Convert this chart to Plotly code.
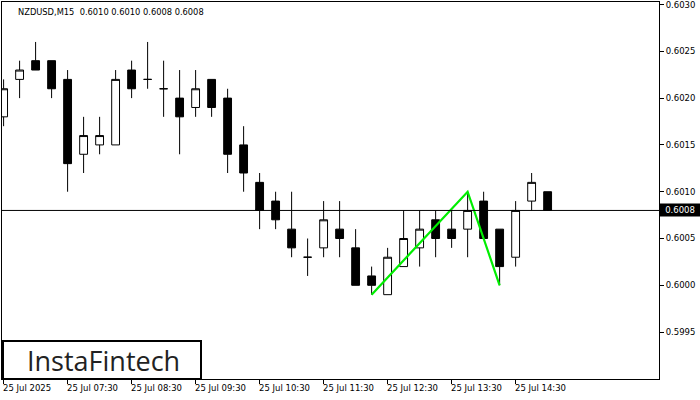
import plotly.graph_objects as go

# ---- data (NZDUSD M15, 25 Jul 2025, 06:30 .. 15:00) ----
bar_index = list(range(35))
opens  = [0.6018, 0.6022, 0.6024, 0.6024, 0.6022, 0.6014, 0.6015, 0.6015, 0.6023, 0.6022,
          0.6021, 0.6020, 0.6019, 0.6022, 0.6020, 0.6015, 0.6011, 0.6009, 0.6006, 0.6003,
          0.6004, 0.6006, 0.6004, 0.6001, 0.5999, 0.6002, 0.6004, 0.6007, 0.6006, 0.6006,
          0.6009, 0.6006, 0.6003, 0.6009, 0.6010]
highs  = [0.6022, 0.6024, 0.6026, 0.6024, 0.6023, 0.6018, 0.6018, 0.6023, 0.6024, 0.6026,
          0.6024, 0.6023, 0.6023, 0.6022, 0.6021, 0.6017, 0.6012, 0.6010, 0.6010, 0.6005,
          0.6009, 0.6009, 0.6006, 0.6002, 0.6004, 0.6008, 0.6008, 0.6008, 0.6008, 0.6010,
          0.6010, 0.6006, 0.6009, 0.6012, 0.6010]
lows   = [0.6017, 0.6020, 0.6023, 0.6020, 0.6010, 0.6012, 0.6014, 0.6015, 0.6020, 0.6021,
          0.6018, 0.6014, 0.6018, 0.6018, 0.6012, 0.6010, 0.6006, 0.6006, 0.6003, 0.6001,
          0.6003, 0.6003, 0.6000, 0.5999, 0.5999, 0.6002, 0.6002, 0.6003, 0.6004, 0.6003,
          0.6005, 0.6000, 0.6002, 0.6008, 0.6008]
closes = [0.6021, 0.6023, 0.6023, 0.6021, 0.6013, 0.6016, 0.6016, 0.6022, 0.6021, 0.6022,
          0.6021, 0.6018, 0.6021, 0.6019, 0.6014, 0.6012, 0.6008, 0.6007, 0.6004, 0.6003,
          0.6007, 0.6005, 0.6000, 0.6000, 0.6003, 0.6005, 0.6006, 0.6005, 0.6005, 0.6008,
          0.6005, 0.6002, 0.6008, 0.6011, 0.6008]

tick_index  = [0, 4, 8, 12, 16, 20, 24, 28, 32]
tick_labels = ["25 Jul 2025", "25 Jul 07:30", "25 Jul 08:30", "25 Jul 09:30", "25 Jul 10:30",
               "25 Jul 11:30", "25 Jul 12:30", "25 Jul 13:30", "25 Jul 14:30"]
y_ticks = [0.5995, 0.6000, 0.6005, 0.6010, 0.6015, 0.6020, 0.6025, 0.6030]

pattern_x = [23, 29, 31]
pattern_y = [0.5999, 0.6010, 0.6000]

bid_price = 0.6008
header = "NZDUSD,M15  0.6010 0.6010 0.6008 0.6008"

FONT = "DejaVu Sans"

fig = go.Figure()
fig.add_trace(go.Candlestick(
    x=bar_index, open=opens, high=highs, low=lows, close=closes,
    increasing=dict(fillcolor="white", line=dict(color="black", width=1)),
    decreasing=dict(fillcolor="black", line=dict(color="black", width=1)),
    whiskerwidth=0, showlegend=False, hoverinfo="skip",
))
fig.add_trace(go.Scatter(
    x=pattern_x, y=pattern_y, mode="lines",
    line=dict(color="#00ee00", width=2.2), showlegend=False, hoverinfo="skip",
))

fig.update_layout(
    width=700, height=400,
    margin=dict(l=2, r=41, t=2, b=21, autoexpand=False),
    paper_bgcolor="white", plot_bgcolor="white",
    boxgap=0.3,
    xaxis=dict(
        range=[-0.1, 40.96], rangeslider=dict(visible=False),
        showgrid=False, zeroline=False,
        showline=True, linecolor="black", linewidth=1, mirror=True,
        tickvals=tick_index, ticks="outside", ticklen=4, tickcolor="black",
        showticklabels=False,
    ),
    yaxis=dict(
        range=[0.598999, 0.603027], side="right",
        showgrid=False, zeroline=False,
        showline=True, linecolor="black", linewidth=1, mirror=True,
        tickvals=y_ticks, tickformat=".4f", ticks="outside", ticklen=4,
        tickcolor="black",
        tickfont=dict(family=FONT, size=8.5, color="black"),
        ticklabeloverflow="allow",
        automargin=False,
    ),
    font=dict(family=FONT, color="black"),
)

# bid line
fig.add_shape(type="line", xref="paper", yref="y", x0=0, x1=1, y0=bid_price, y1=bid_price,
              line=dict(color="black", width=1))

annotations = []
for i, lab in zip(tick_index, tick_labels):
    annotations.append(dict(
        x=i, xref="x", y=0, yref="paper", text=lab, showarrow=False,
        xanchor="left", yanchor="top", xshift=-3, yshift=-2,
        font=dict(family=FONT, size=8.5, color="black"),
    ))

# price label box
annotations.append(dict(
    x=1, xref="paper", y=bid_price, yref="y", text="0.6008", showarrow=False,
    xanchor="left", yanchor="middle", xshift=0,
    bgcolor="black", font=dict(family=FONT, size=8.5, color="white"),
    borderpad=1, width=38,
))

# header
annotations.append(dict(
    x=0, xref="paper", y=1, yref="paper", text=header, showarrow=False,
    xanchor="left", yanchor="top", xshift=14, yshift=-3,
    font=dict(family=FONT, size=8.3, color="black"),
))

# logo
fig.add_shape(type="rect", xref="paper", yref="paper",
              x0=1 / 657, x1=199 / 657, y0=0, y1=38 / 377,
              line=dict(color="black", width=2), fillcolor="white")
annotations.append(dict(
    x=101 / 657, xref="paper", y=19 / 377, yref="paper", text="InstaFintech",
    showarrow=False, xanchor="center", yanchor="middle",
    font=dict(family="Open Sans", size=27, color="#222222"),
))

fig.update_layout(annotations=annotations)

fig.write_html(
    "out.html",
    config={"displayModeBar": False},
    post_script="document.body.style.margin='0';document.body.style.overflow='hidden';",
)
